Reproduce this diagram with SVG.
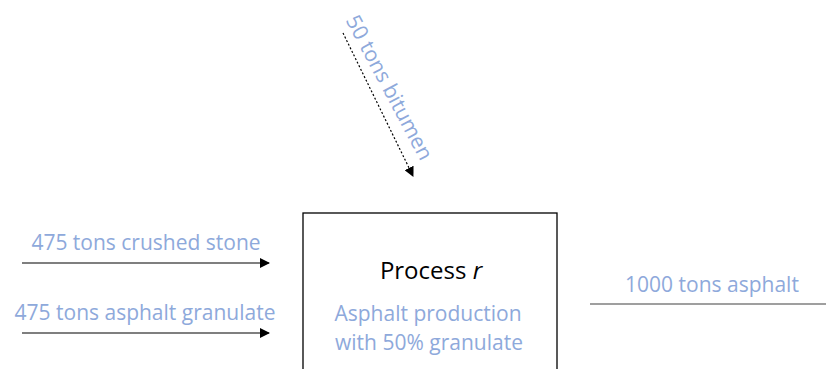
<svg xmlns="http://www.w3.org/2000/svg" width="826" height="369" viewBox="0 0 826 369">
<style>
.lbl{font-family:"Open Sans","Liberation Sans",sans-serif;font-size:21px;fill:#8EA9DB}
.blk{font-family:"Open Sans","Liberation Sans",sans-serif;font-size:24px;fill:#000}
.ln{stroke:#000;stroke-width:1.2;fill:none}
</style>
<defs>
<marker id="ah" viewBox="0 0 10 10" refX="9" refY="5" markerWidth="10" markerHeight="10" markerUnits="userSpaceOnUse" orient="auto">
<path d="M0,0 L10,5 L0,10 z" fill="#000"/>
</marker>
</defs>
<rect width="826" height="369" fill="#fff"/>
<g id="process">
<rect x="303" y="213" width="254" height="170" fill="#fff" stroke="#000" stroke-width="1.3"/>
<text class="blk" x="431" y="279" text-anchor="middle">Process <tspan font-style="italic">r</tspan></text>
<text class="lbl" x="428" y="321" text-anchor="middle">Asphalt production</text>
<text class="lbl" x="429" y="350" text-anchor="middle">with 50% granulate</text>
</g>
<g id="connectors">
<line class="ln" x1="22" y1="263" x2="269" y2="263" marker-end="url(#ah)"/>
<line class="ln" x1="22" y1="333" x2="269" y2="333" marker-end="url(#ah)"/>
<line class="ln" x1="343" y1="33" x2="413" y2="176" stroke-dasharray="2,2" marker-end="url(#ah)"/>
<line x1="590" y1="304" x2="826" y2="304" stroke="#7f7f7f" stroke-width="1.3"/>
</g>
<g id="labels">
<text class="lbl" x="146" y="250" text-anchor="middle">475 tons crushed stone</text>
<text class="lbl" x="145" y="320" text-anchor="middle">475 tons asphalt granulate</text>
<text class="lbl" x="712" y="292" text-anchor="middle">1000 tons asphalt</text>
<text class="lbl" text-anchor="middle" transform="translate(383,91) rotate(62)">50 tons bitumen</text>
</g>
</svg>
